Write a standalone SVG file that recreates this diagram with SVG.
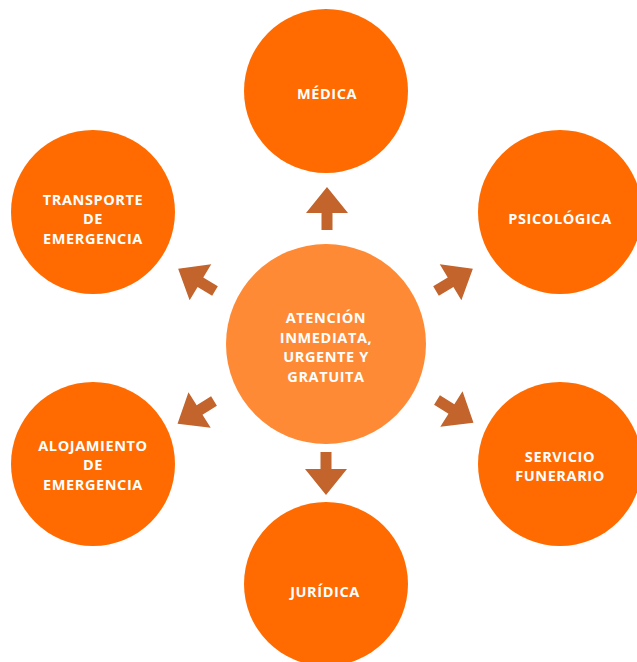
<svg xmlns="http://www.w3.org/2000/svg" width="637" height="662" viewBox="0 0 637 662">
<style>
.outer{fill:#FF6B00}
.center{fill:#FF8A35}
.lbl{font-family:"Open Sans","Noto Sans","Liberation Sans",sans-serif;font-weight:700;font-size:14.5px;letter-spacing:0.6px;fill:#FFFFFF;text-anchor:middle}
.arrow{fill:#C2642C}
</style>
<defs>
<path id="arr" d="M-5.5,0 L5.5,0 L5.5,-17 L21,-17 L0,-43 L-21,-17 L-5.5,-17 Z"/>
</defs>
<rect width="637" height="662" fill="#FFFFFF"/>
<g id="connectors">
<use href="#arr" class="arrow" transform="translate(327,230)"/>
<use href="#arr" class="arrow" transform="translate(326,452) rotate(180)"/>
<use href="#arr" class="arrow" transform="translate(436,291) rotate(59)"/>
<use href="#arr" class="arrow" transform="translate(437,400) rotate(122)"/>
<use href="#arr" class="arrow" transform="translate(215,291) rotate(-59)"/>
<use href="#arr" class="arrow" transform="translate(214,401) rotate(-122)"/>
</g>
<g id="center-node">
<circle class="center" cx="326" cy="344" r="100"/>
<text class="lbl" x="326" y="323">ATENCIÓN</text>
<text class="lbl" x="326" y="342.5">INMEDIATA,</text>
<text class="lbl" x="326" y="362">URGENTE Y</text>
<text class="lbl" x="326" y="381.5">GRATUITA</text>
</g>
<g id="medica">
<circle class="outer" cx="326" cy="91" r="82"/>
<text class="lbl" x="327" y="99">MÉDICA</text>
</g>
<g id="psicologica">
<circle class="outer" cx="560" cy="212" r="82"/>
<text class="lbl" x="560" y="224">PSICOLÓGICA</text>
</g>
<g id="servicio-funerario">
<circle class="outer" cx="560" cy="464" r="82"/>
<text class="lbl" x="560" y="462">SERVICIO</text>
<text class="lbl" x="560" y="481">FUNERARIO</text>
</g>
<g id="juridica">
<circle class="outer" cx="326" cy="584" r="82"/>
<text class="lbl" x="325" y="597">JURÍDICA</text>
</g>
<g id="alojamiento">
<circle class="outer" cx="93" cy="464" r="82"/>
<text class="lbl" x="93" y="451">ALOJAMIENTO</text>
<text class="lbl" x="93" y="470">DE</text>
<text class="lbl" x="93" y="490">EMERGENCIA</text>
</g>
<g id="transporte">
<circle class="outer" cx="93" cy="212" r="82"/>
<text class="lbl" x="93" y="205">TRANSPORTE</text>
<text class="lbl" x="93" y="224">DE</text>
<text class="lbl" x="93" y="244">EMERGENCIA</text>
</g>
</svg>
